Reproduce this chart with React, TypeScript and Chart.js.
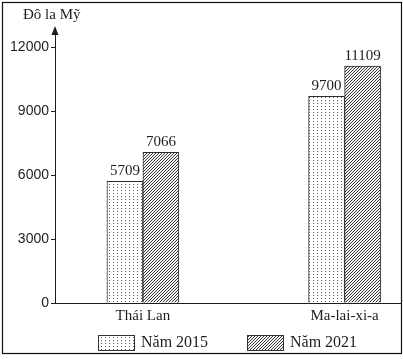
import React, { useEffect, useRef } from 'react';
import { Chart, registerables } from 'chart.js';

Chart.register(...registerables);

// ---- data ----
const CATEGORIES = ['Thái Lan', 'Ma-lai-xi-a'];
const SERIES_LABELS = ['Năm 2015', 'Năm 2021'];
const VALUES_2015 = [5709, 9700];
const VALUES_2021 = [7066, 11109];
const Y_TICKS = [0, 3000, 6000, 9000, 12000];
const Y_TITLE = 'Đô la Mỹ';

// ---- layout (not data) ----
const GROUP_POS = [2.54, 8.37];
const X_MAX = 10;
const Y_MAX = 12900;
const LEGEND_X = [98, 247];

const SERIF = '"Liberation Serif", "Times New Roman", serif';
const SANS = '"Liberation Sans", Arial, sans-serif';
const INK = '#1e1e1e';

function makeDots(ctx: CanvasRenderingContext2D) {
  const c = document.createElement('canvas');
  c.width = 4; c.height = 3;
  const g = c.getContext('2d')!;
  g.fillStyle = '#ffffff';
  g.fillRect(0, 0, 4, 3);
  g.fillStyle = '#5e5e5e';
  g.fillRect(1, 1, 1, 1);
  return ctx.createPattern(c, 'repeat')!;
}

function makeHatch(ctx: CanvasRenderingContext2D) {
  const n = 3;
  const c = document.createElement('canvas');
  c.width = n; c.height = n;
  const g = c.getContext('2d')!;
  g.fillStyle = '#f4f4f4';
  g.fillRect(0, 0, n, n);
  g.fillStyle = '#3a3a3a';
  for (let i = 0; i < n; i++) g.fillRect(i, n - 1 - i, 1, 1);
  return ctx.createPattern(c, 'repeat')!;
}

const decor = {
  id: 'decor',
  beforeDraw(chart: any) {
    const { ctx, width, height } = chart;
    ctx.save();
    ctx.fillStyle = '#ffffff';
    ctx.fillRect(0, 0, width, height);
    ctx.restore();
  },
  afterDatasetsDraw(chart: any) {
    const { ctx } = chart;
    ctx.save();
    ctx.font = `15px ${SERIF}`;
    ctx.fillStyle = INK;
    ctx.textAlign = 'center';
    ctx.textBaseline = 'bottom';
    chart.data.datasets.forEach((ds: any, di: number) => {
      const meta = chart.getDatasetMeta(di);
      meta.data.forEach((bar: any, i: number) => {
        ctx.fillText(String(ds.data[i].y), bar.x, bar.y - 3);
      });
    });
    ctx.restore();
  },
  afterDraw(chart: any) {
    const { ctx, chartArea } = chart;
    const ax = chartArea.left;
    ctx.save();
    // arrow head
    ctx.fillStyle = INK;
    ctx.beginPath();
    ctx.moveTo(ax, chartArea.top - 2);
    ctx.lineTo(ax - 3.5, chartArea.top + 7);
    ctx.lineTo(ax + 3.5, chartArea.top + 7);
    ctx.closePath();
    ctx.fill();
    // y title
    ctx.font = `15px ${SERIF}`;
    ctx.textAlign = 'left';
    ctx.textBaseline = 'middle';
    ctx.fillText(Y_TITLE, 23, 15);
    // legend
    chart.data.datasets.forEach((ds: any, di: number) => {
      const x = LEGEND_X[di];
      const y = 335;
      ctx.fillStyle = ds.backgroundColor;
      ctx.fillRect(x, y, 36, 15);
      ctx.strokeStyle = '#333';
      ctx.lineWidth = 1;
      ctx.strokeRect(x + 0.5, y + 0.5, 36, 15);
      ctx.fillStyle = INK;
      ctx.font = `16px ${SERIF}`;
      ctx.textAlign = 'left';
      ctx.textBaseline = 'middle';
      ctx.fillText(ds.label, x + 43, y + 8);
    });
    // frame
    ctx.strokeStyle = '#111';
    ctx.lineWidth = 1.2;
    ctx.strokeRect(2.5, 2.5, 399, 351);
    ctx.restore();
  },
};

export default function App() {
  const ref = useRef<HTMLCanvasElement>(null);
  useEffect(() => {
    const canvas = ref.current!;
    const ctx = canvas.getContext('2d')!;
    const dots = makeDots(ctx);
    const hatch = makeHatch(ctx);
    const chart = new Chart(canvas, {
      type: 'bar',
      data: {
        datasets: [
          {
            label: SERIES_LABELS[0],
            data: VALUES_2015.map((v, i) => ({ x: GROUP_POS[i], y: v })),
            backgroundColor: dots,
            borderColor: '#2a2a2a',
            borderWidth: 1,
          },
          {
            label: SERIES_LABELS[1],
            data: VALUES_2021.map((v, i) => ({ x: GROUP_POS[i], y: v })),
            backgroundColor: hatch,
            borderColor: '#2a2a2a',
            borderWidth: 1,
          },
        ],
      } as any,
      options: {
        animation: false,
        responsive: false,
        devicePixelRatio: 1,
        barThickness: 36,
        grouped: true,
        layout: { padding: { left: 0, right: 2, top: 28, bottom: 26 } },
        plugins: { legend: { display: false }, tooltip: { enabled: false } },
        scales: {
          x: {
            type: 'linear',
            min: 0,
            max: X_MAX,
            offset: false,
            bounds: 'data',
            afterBuildTicks: (s: any) => { s.ticks = GROUP_POS.map((v) => ({ value: v })); },
            afterFit: (s: any) => { s.height = 30; },
            grid: { display: false, drawTicks: false, offset: false },
            border: { display: true, color: INK, width: 1 },
            ticks: {
              callback: (_v: any, i: number) => CATEGORIES[i],
              font: { family: SERIF, size: 15 },
              color: INK,
              padding: 4,
              autoSkip: false,
              maxRotation: 0,
            },
          },
          y: {
            min: 0,
            max: Y_MAX,
            afterBuildTicks: (s: any) => { s.ticks = Y_TICKS.map((v) => ({ value: v })); },
            afterFit: (s: any) => { s.width = 55; },
            grid: { drawOnChartArea: false, drawTicks: true, tickLength: 4, color: INK },
            border: { display: true, color: INK, width: 1 },
            ticks: {
              callback: (v: any) => String(v),
              font: { family: SANS, size: 14 },
              color: INK,
              padding: 2,
            },
          },
        },
      } as any,
      plugins: [decor],
    });
    return () => chart.destroy();
  }, []);
  return (
    <div style={{ position: 'absolute', left: 0, top: 0, width: 403, height: 359 }}>
      <canvas ref={ref} width={403} height={359} style={{ display: 'block' }} />
    </div>
  );
}
